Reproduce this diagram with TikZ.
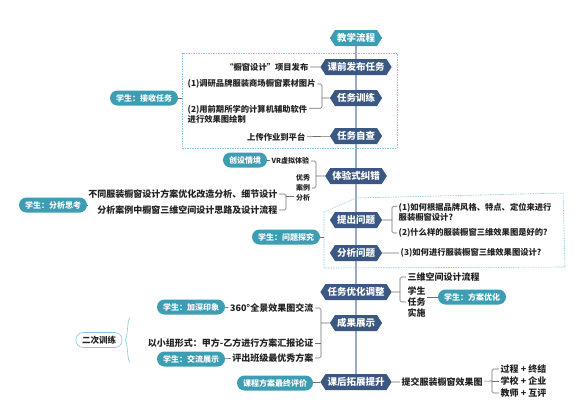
\documentclass[tikz,border=0pt]{standalone}
\usepackage{fontspec}
\setmainfont{Noto Sans CJK SC}
\usetikzlibrary{shapes.symbols,backgrounds,positioning}
\definecolor{stepblue}{HTML}{3B5883}
\definecolor{pillteal}{HTML}{3C9DB3}
\definecolor{frameblue}{HTML}{8EC3DD}
\definecolor{linegray}{HTML}{6E6E6E}
\definecolor{spineblue}{HTML}{5F7EA6}
\definecolor{inkgray}{HTML}{222222}

\begin{document}
\begin{tikzpicture}[x=1pt,y=-1pt,
  main/.style={signal,signal to=west and east,signal pointer angle=115,fill=stepblue,text=white,
    font=\fontsize{9.5}{11}\selectfont\bfseries,minimum height=16pt,inner xsep=2pt,inner ysep=1pt},
  pill/.style={rounded corners=7.5pt,fill=pillteal,text=white,font=\fontsize{8}{9.5}\selectfont\bfseries,
    minimum height=15pt,inner xsep=6pt,inner ysep=1pt},
  txt/.style={text=inkgray,font=\fontsize{9}{11}\selectfont\bfseries,inner sep=1.5pt,align=left},
  btxt/.style={txt,font=\fontsize{8.3}{10}\selectfont\bfseries},
  conn/.style={draw=linegray,line width=0.6pt},
  brk/.style={conn,rounded corners=1.5pt},
  frame/.style={draw=frameblue,line width=0.6pt,dash pattern=on 1.5pt off 1pt}]
\useasboundingbox (0,0) rectangle (585,408);

% spine steps
\node[main,fill=pillteal] (jxlc) at (356,38) {教学流程};
\node[main] (kqfb) at (356,67) {课前发布任务};
\node[main] (rwxl) at (356,98) {任务训练};
\node[main] (rwzc) at (356,136) {任务自查};
\node[main] (tysjc) at (356,176) {体验式纠错};
\node[main] (tcwt) at (356,220) {提出问题};
\node[main] (fxwt) at (356,253) {分析问题};
\node[main] (rwyh) at (356,292) {任务优化调整};
\node[main] (cgzs) at (356,323) {成果展示};
\node[main] (khtz) at (356,382) {课后拓展提升};

% before class
\draw[frame] (182,53) rectangle (397,148);
\coordinate (f1w) at (182,98);
\node[pill] (s1) at (144,98) {学生：接收任务};
\node[btxt,anchor=east] (t11) at (310,67) {“橱窗设计”项目发布};
\node[btxt,anchor=west] (t12) at (186,84) {(1)调研品牌服装商场橱窗素材图片};
\node[btxt,anchor=west] (t13) at (186,114) {(2)用前期所学的计算机辅助软件\\进行效果图绘制};
\node[btxt,anchor=east] (t14) at (307,137) {上传作业到平台};
\coordinate (bx1) at (322,98);
\draw[conn] (s1) -- (f1w);
\draw[conn] (t11) -- (kqfb);
\draw[brk] (t12.east) -| (bx1) |- ([yshift=-5pt]t13.north east);
\draw[conn] (bx1) -- (rwxl);
\draw[conn] (t14) -- (rwzc);

% experience
\node[pill] (cjqj) at (245,160) {创设情境};
\node[txt,font=\fontsize{7}{8}\selectfont\bfseries,anchor=west] (vr) at (270,161) {VR虚拟体验};
\node[txt,font=\fontsize{7}{10}\selectfont\bfseries,align=center] (yxal) at (303,188) {优秀\\案例\\分析};
\node[pill] (s2) at (53,205) {学生：分析思考};
\node[txt,anchor=east] (t21) at (279,194) {不同服装橱窗设计方案优化改造分析、细节设计};
\node[txt,anchor=east] (t22) at (279,210) {分析案例中橱窗三维空间设计思路及设计流程};
\coordinate (bx7) at (316,176);
\coordinate (bx2) at (286,196);
\draw[conn] (cjqj) -- (vr);
\draw[brk] (vr.east) -| (bx7) |- (yxal.east);
\draw[conn] (bx7) -- (tysjc);
\draw[brk] (t21.east) -| (bx2) |- (t22.east);
\draw[conn] (bx2) -- (yxal.west |- bx2);
\draw[conn] (s2.east) -- (s2.east -| t21.west);

% questions
\draw[frame] (324,268) -- (324,212) -- (356,198) -- (563,193) -- (565,267) -- cycle;
\coordinate (f2w) at (324,237);
\node[pill] (s3) at (286,237) {学生：问题探究};
\node[btxt,anchor=west] (t31) at (397,212) {(1)如何根据品牌风格、特点、定位来进行\\服装橱窗设计?};
\node[btxt,anchor=west] (t32) at (397,233) {(2)什么样的服装橱窗三维效果图是好的?};
\node[btxt,anchor=west] (t33) at (399,253) {(3)如何进行服装橱窗三维效果图设计?};
\coordinate (bx3) at (392,220);
\draw[conn] (s3) -- (f2w);
\draw[brk] ([yshift=-5pt]t31.north west) -| (bx3) |- (t32.west);
\draw[conn] (tcwt) -- (bx3);
\draw[conn] (fxwt) -- (t33);

% optimisation
\node[txt,anchor=west] (t41) at (406,277) {三维空间设计流程};
\node[txt,anchor=west] (t42) at (406,302) {学生\\任务\\实施};
\node[pill] (s4) at (472,297) {学生：方案优化};
\coordinate (bx4) at (400,292);
\draw[brk] (t41.west) -| (bx4) |- (t42.west);
\draw[conn] (rwyh) -- (bx4);
\draw[conn] (s4.west) -- (s4.west -| t42.east);

% show results
\node[txt,anchor=east] (t51) at (315,308) {360°全景效果图交流};
\node[txt,anchor=east] (t52) at (315,343) {以小组形式：甲方-乙方进行方案汇报论证};
\node[txt,anchor=east] (t53) at (315,358) {评出班级最优秀方案};
\node[pill] (s5) at (191,307) {学生：加深印象};
\node[pill] (s6) at (191,359) {学生：交流展示};
\node[draw=frameblue,line width=0.6pt,rounded corners=7pt,minimum height=14pt,inner xsep=6pt,
  text=inkgray,font=\fontsize{8.5}{10}\selectfont\bfseries] (erxl) at (99,340) {二次训练};
\coordinate (bx5) at (321,323);
\draw[brk] (t51.east) -| (bx5) |- (t53.east);
\draw[conn] (t52.east) -- (t52.east -| bx5);
\draw[conn] (bx5) -- (cgzs);
\draw[conn] (s5) -- (t51);
\draw[conn] (s6) -- (t53);
\coordinate (bt) at (130,318);
\coordinate (bb) at (130,362);
\draw[draw=frameblue,line width=0.6pt] (bt) .. controls (127,319) and (128,338) .. (125,340)
  .. controls (128,342) and (127,361) .. (bb);

% after class
\node[pill] (s7) at (275,383) {课程方案最终评价};
\node[txt,anchor=west] (t61) at (400,382) {提交服装橱窗效果图};
\node[txt,anchor=west] (t62) at (499,369) {过程 + 终结};
\node[txt,anchor=west] (t63) at (499,381) {学校 + 企业};
\node[txt,anchor=west] (t64) at (499,393) {教师 + 互评};
\coordinate (bx6) at (492,381);
\draw[conn] (s7) -- (khtz);
\draw[conn] (khtz) -- (t61);
\draw[brk] (t62.west) -| (bx6) |- (t64.west);
\draw[conn] (t63.west) -- (bx6);
\draw[conn] (t61) -- (bx6);

\begin{scope}[on background layer]
\draw[spineblue,line width=1.2pt] (jxlc) -- (khtz);
\end{scope}
\end{tikzpicture}
\end{document}
